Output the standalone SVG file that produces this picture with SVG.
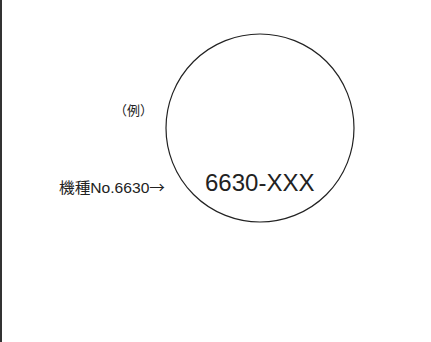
<svg xmlns="http://www.w3.org/2000/svg" width="431" height="342" viewBox="0 0 431 342">
<style>
.t{font-family:"Liberation Sans","Noto Sans CJK JP",sans-serif;fill:#222}
.cjk{font-family:"Noto Sans CJK JP",sans-serif}
</style>
<rect x="0" y="0" width="431" height="342" fill="#fff"/>
<rect x="0" y="0" width="2" height="342" fill="#333"/>
<g id="circle-node">
<ellipse cx="260" cy="128" rx="94" ry="94" fill="none" stroke="#222" stroke-width="1.2"/>
<text class="t" x="205" y="191" font-size="24">6630-XXX</text>
</g>
<g id="example-label">
<text class="t" x="114" y="115" font-size="13">（例）</text>
</g>
<g id="model-label">
<text class="t" x="59" y="193" font-size="15" textLength="106" lengthAdjust="spacingAndGlyphs">機種No.6630<tspan class="cjk">→</tspan></text>
</g>
<g id="connectors"></g>
</svg>
